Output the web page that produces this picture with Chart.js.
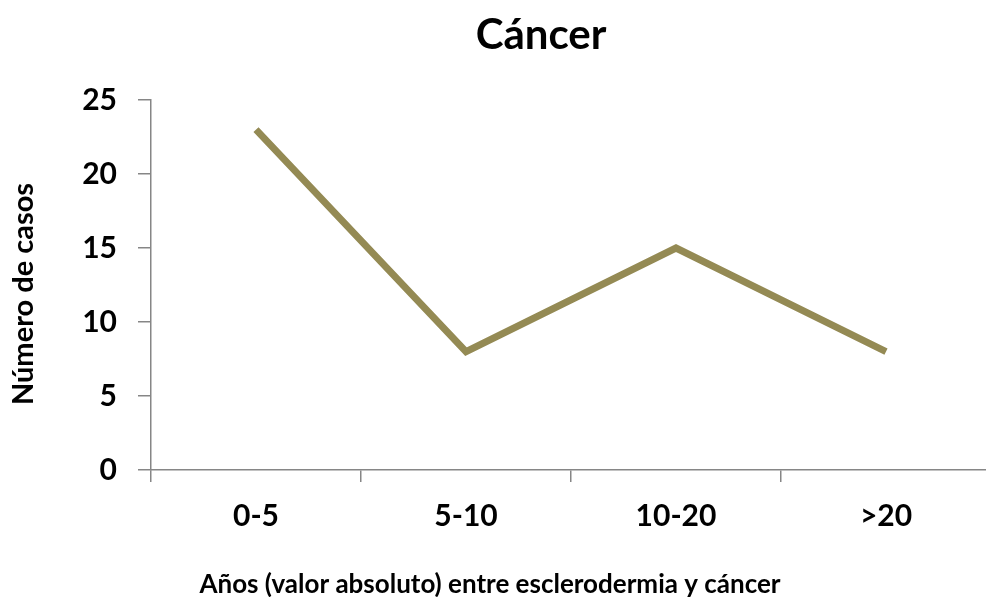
<!DOCTYPE html>
<html>
<head>
<meta charset="utf-8">
<script src="https://cdn.jsdelivr.net/npm/chart.js@4.4.1/dist/chart.umd.min.js"></script>
<style>
  html, body { margin: 0; padding: 0; background: #ffffff; overflow: hidden; }
  #wrap { position: relative; width: 1000px; height: 597px; }
</style>
</head>
<body>
<div id="wrap"><canvas id="c"></canvas></div>
<script>
// Cases by interval between scleroderma and cancer diagnosis
const categories = ['0-5', '5-10', '10-20', '>20'];
const casos = [23, 8, 15, 8];
const yTicks = [0, 5, 10, 15, 20, 25];

const chartTitle = 'Cáncer';
const xTitle = 'Años (valor absoluto) entre esclerodermia y cáncer';
const yTitle = 'Número de casos';

const FONT = 'Lato, "Open Sans", sans-serif';
const AXIS = '#868686';

// Titles placed relative to the whole figure rather than the plot area
const figureTitles = {
  id: 'figureTitles',
  afterDraw(chart) {
    const ctx = chart.ctx;
    ctx.save();
    ctx.fillStyle = '#000000';
    ctx.textAlign = 'center';
    ctx.textBaseline = 'alphabetic';

    ctx.font = `bold 42px ${FONT}`;
    ctx.fillText(chartTitle, 541, 49);

    ctx.font = `bold 26px ${FONT}`;
    ctx.fillText(xTitle, 490, 593);

    ctx.translate(33, 294);
    ctx.rotate(-Math.PI / 2);
    ctx.font = `bold 29px ${FONT}`;
    ctx.fillText(yTitle, 0, 0);
    ctx.restore();
  }
};

new Chart(document.getElementById('c'), {
  type: 'line',
  data: {
    labels: categories,
    datasets: [{
      label: 'Casos',
      data: casos,
      borderColor: '#948A54',
      backgroundColor: '#948A54',
      borderWidth: 7,
      pointRadius: 0,
      pointHoverRadius: 0,
      tension: 0,
      borderJoinStyle: 'miter'
    }]
  },
  plugins: [figureTitles],
  options: {
    responsive: true,
    maintainAspectRatio: false,
    animation: false,
    events: [],
    layout: { padding: { left: 0, right: 9, top: 100, bottom: 0 } },
    plugins: {
      legend: { display: false },
      tooltip: { enabled: false },
      title: { display: false }
    },
    scales: {
      x: {
        offset: true,
        grid: {
          offset: true,
          drawOnChartArea: false,
          drawTicks: true,
          tickLength: 12,
          color: AXIS,
          lineWidth: 1.5
        },
        border: { display: true, color: AXIS, width: 1.5 },
        ticks: {
          color: '#000000',
          font: { family: FONT, size: 30, weight: 'bold' },
          padding: 16
        },
        afterFit: (s) => { s.height = 127; }
      },
      y: {
        min: 0,
        max: 25,
        afterBuildTicks: (s) => { s.ticks = yTicks.map(v => ({ value: v })); },
        grid: {
          drawOnChartArea: false,
          drawTicks: true,
          tickLength: 13,
          color: AXIS,
          lineWidth: 1.5
        },
        border: { display: true, color: AXIS, width: 1.5 },
        ticks: {
          color: '#000000',
          font: { family: FONT, size: 30, weight: 'bold' },
          padding: 21
        },
        afterFit: (s) => { s.width = 151; }
      }
    }
  }
});
</script>
</body>
</html>
